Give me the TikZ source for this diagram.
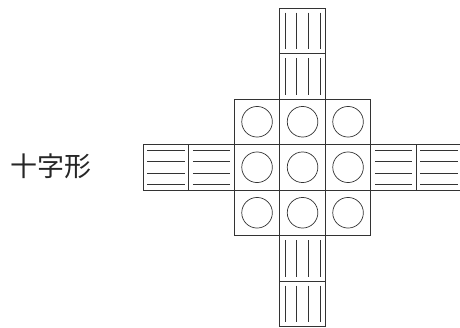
\documentclass[tikz,border=0pt]{standalone}
\usepackage{fontspec}
\newfontfamily\jpfont{Noto Sans CJK JP}
\usetikzlibrary{positioning}

\begin{document}
\begin{tikzpicture}[
  x=1pt, y=-1pt,
  cell/.style={draw=black!80, line width=0.7pt, minimum size=45.5pt,
    inner sep=0pt, outer sep=0pt},
  ballcell/.style={cell, path picture={
    \draw[black!80, line width=0.7pt] (path picture bounding box.center) circle (15.3pt);}},
  vstripe/.style={cell, path picture={
    \foreach \d in {-17.5,-5.8,5.8,17.5}
      \draw[black!80, line width=0.7pt]
        ([xshift=\d pt, yshift=-4.5pt]path picture bounding box.north) --
        ([xshift=\d pt, yshift=4.5pt]path picture bounding box.south);}},
  hstripe/.style={cell, path picture={
    \foreach \d in {-17,-5.7,5.7,17}
      \draw[black!80, line width=0.7pt]
        ([xshift=4pt, yshift=\d pt]path picture bounding box.west) --
        ([xshift=-4pt, yshift=\d pt]path picture bounding box.east);}},
  title/.style={font=\jpfont\fontsize{27}{30}\selectfont, text=black!85}
]
\useasboundingbox (0,0) rectangle (460,327);
% 3x3 centre with balls
\foreach \i in {0,1,2}
  \foreach \j in {0,1,2}
    \node[ballcell] (c-\i-\j) at (257.05+45.5*\i, 121.75+45.5*\j) {};
% arms
\foreach \j in {-2,-1,3,4}
  \node[vstripe] (v\j) at (302.55, 121.75+45.5*\j) {};
\foreach \i in {-2,-1,3,4}
  \node[hstripe] (h\i) at (257.05+45.5*\i, 167.25) {};
\node[title] (label) at (51,166) {十字形};
\end{tikzpicture}
\end{document}
